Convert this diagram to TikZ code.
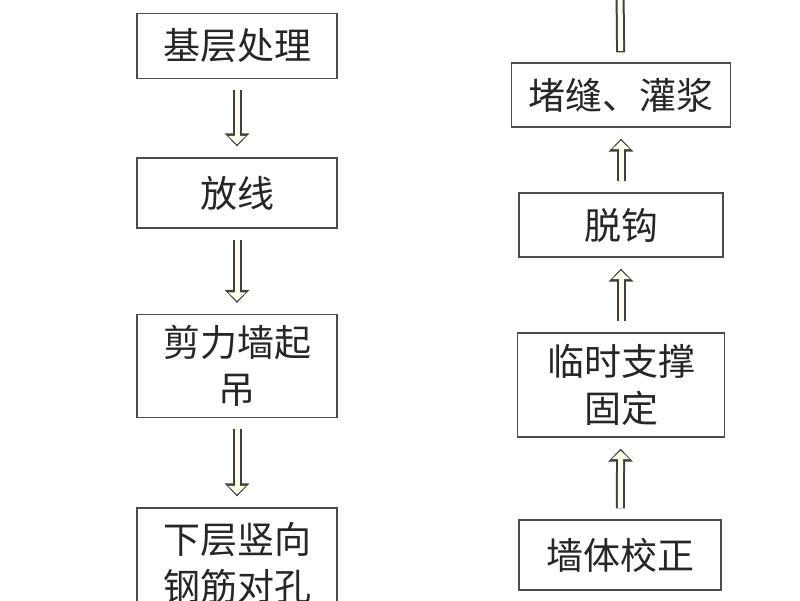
\documentclass[tikz,border=0pt]{standalone}
\usepackage{fontspec}
\setmainfont{Noto Sans CJK SC}
\usetikzlibrary{arrows.meta}
\begin{document}
\begin{tikzpicture}[x=1pt, y=-1pt,
  box/.style={rectangle, draw=black!70, line width=1.3pt, fill=white, align=center, text=black!85, font=\fontsize{37}{47}\selectfont, inner sep=0pt},
  hollow/.style={line width=9pt, draw=black!75, -{Triangle[length=13pt, width=24pt]}, shorten <=11pt, shorten >=11pt},
  hollowin/.style={line width=5pt, draw=white!92!yellow, -{Triangle[length=8.5pt, width=17pt]}, shorten <=11pt, shorten >=13pt},
  shaft/.style={line width=9pt, draw=black!75},
  shaftin/.style={line width=5pt, draw=white!92!yellow}]
\useasboundingbox (0,0) rectangle (800,600);
% left column
\node[box, minimum width=200pt, minimum height=65pt] (base) at (237,46) {基层处理};
\node[box, minimum width=200pt, minimum height=70pt] (line) at (237,193) {放线};
\node[box, minimum width=200pt, minimum height=103pt] (lift) at (237,366) {剪力墙起\\吊};
\node[box, minimum width=200pt, minimum height=110pt] (bars) at (237,563) {下层竖向\\钢筋对孔};
% right column
\coordinate (top) at (620,-12);
\node[box, minimum width=219pt, minimum height=64pt] (grout) at (621,95) {堵缝、灌浆};
\node[box, minimum width=204pt, minimum height=64pt] (hook) at (621,225) {脱钩};
\node[box, minimum width=207pt, minimum height=104pt] (brace) at (621,385) {临时支撑\\固定};
\node[box, minimum width=202pt, minimum height=70pt] (adjust) at (620,555) {墙体校正};
% arrows
\foreach \a/\b in {base/line, line/lift, lift/bars, adjust/brace, brace/hook, hook/grout}{
  \draw[hollow] (\a) -- (\b);
  \draw[hollowin] (\a) -- (\b);
}
\draw[shaft, shorten >=10pt] (top) -- (grout);
\draw[shaftin, shorten >=11.5pt] (top) -- (grout);
\end{tikzpicture}
\end{document}
